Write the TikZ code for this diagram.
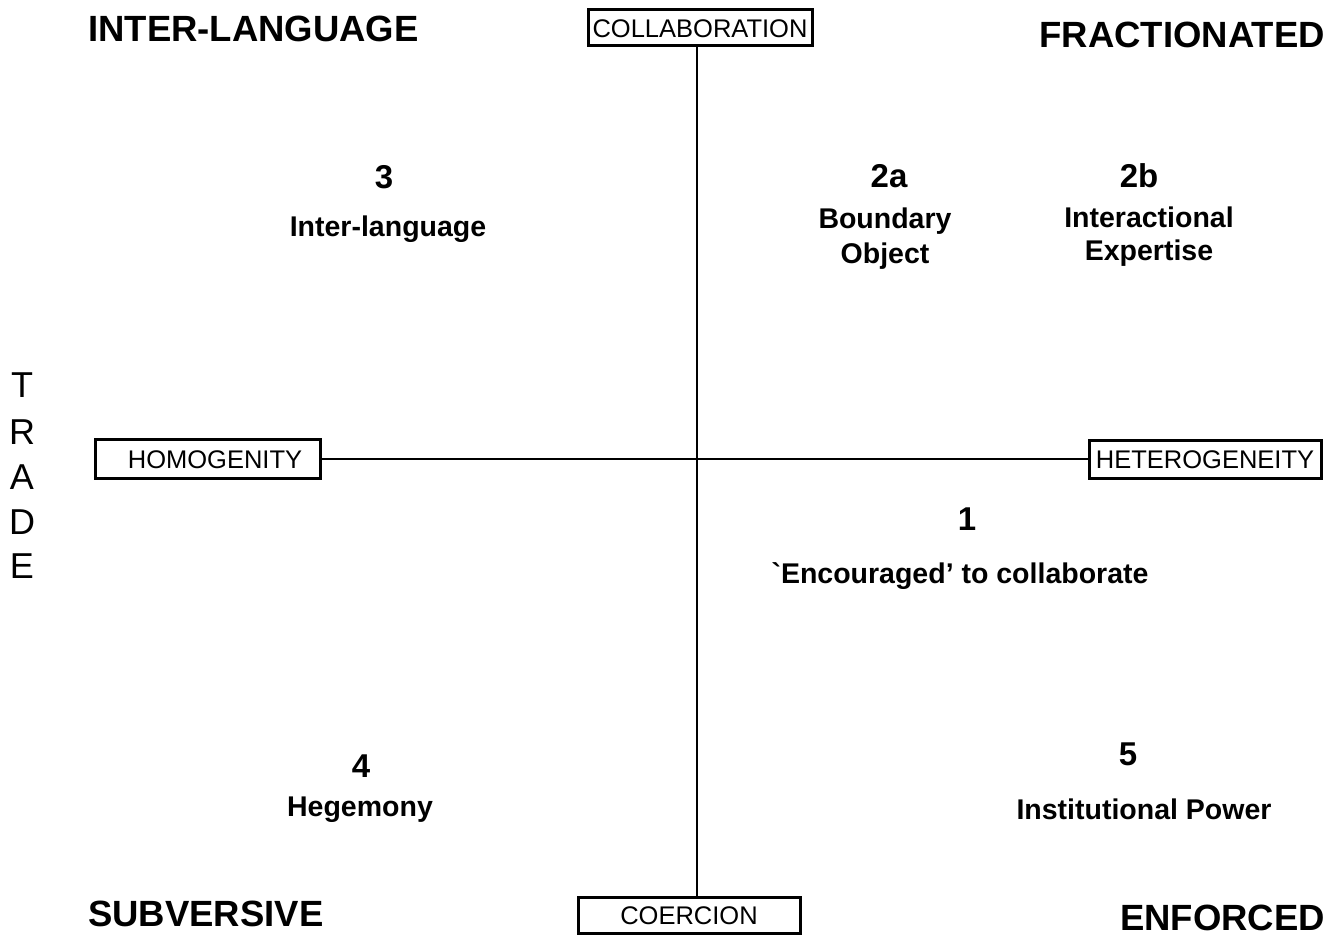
\documentclass[tikz,border=0pt]{standalone}
\usepackage{fontspec}
\setmainfont{Liberation Sans}
\begin{document}
\begin{tikzpicture}[x=1pt,y=-1pt,
  boxlbl/.style={draw=black,line width=3pt,inner sep=0pt,font=\fontsize{25.5}{30}\selectfont,text height=18.3pt,text depth=0pt},
  corner/.style={inner sep=0pt,font=\fontsize{36.5}{42}\selectfont\bfseries,text height=26.1pt,text depth=0pt},
  num/.style={inner sep=0pt,font=\fontsize{33}{38}\selectfont\bfseries,text height=23.6pt,text depth=0pt},
  body/.style={inner sep=0pt,font=\fontsize{28.5}{33}\selectfont\bfseries,text height=20.4pt,text depth=0pt},
  trade/.style={inner sep=0pt,font=\fontsize{36}{41}\selectfont,text height=25.8pt,text depth=0pt},
  axis/.style={line width=1.8pt,draw=black}]
\useasboundingbox (0,0) rectangle (1338,936);
% boxes
\node[boxlbl,minimum width=224pt,minimum height=36pt] (collab) at (700,28) {COLLABORATION};
\node[boxlbl,minimum width=222pt,minimum height=36pt] (coerc) at (689,915) {COERCION};
\node[boxlbl,minimum width=225pt,minimum height=39pt] (homo) at (208,459) {\hspace{14pt}HOMOGENITY};
\node[boxlbl,minimum width=232pt,minimum height=38pt] (hetero) at (1205,459) {HETEROGENEITY};
% axes
\coordinate (ax) at (697,0);
\draw[axis] (collab.south -| ax) -- (coerc.north -| ax);
\draw[axis] (homo.east) -- (hetero.west);
% corner labels
\node[corner,anchor=west] (il) at (88,28) {INTER-LANGUAGE};
\node[corner,anchor=east] (fr) at (1325,34) {FRACTIONATED};
\node[corner,anchor=west] (sv) at (88,913) {SUBVERSIVE};
\node[corner,anchor=east] (en) at (1325,917) {ENFORCED};
% TRADE
\node[trade] (t1) at (22,385) {T};
\node[trade] (t2) at (22,432) {R};
\node[trade] (t3) at (22,477) {A};
\node[trade] (t4) at (22,522) {D};
\node[trade] (t5) at (22,566) {E};
% quadrant texts
\node[num] (n3) at (384,177) {3};
\node[body] (b3) at (388,226) {Inter-language};
\node[num] (n2a) at (889,176) {2a};
\node[body] (b2a1) at (885,218) {Boundary};
\node[body] (b2a2) at (885,253) {Object};
\node[num] (n2b) at (1139,176) {2b};
\node[body] (b2b1) at (1149,217) {Interactional};
\node[body] (b2b2) at (1149,250) {Expertise};
\node[num] (n1) at (967,519) {1};
\node[body] (b1) at (960,573) {\textasciigrave Encouraged' to collaborate};
\node[num] (n4) at (361,766) {4};
\node[body] (b4) at (360,806) {Hegemony};
\node[num] (n5) at (1128,754) {5};
\node[body] (b5) at (1144,809) {Institutional Power};
\end{tikzpicture}
\end{document}
